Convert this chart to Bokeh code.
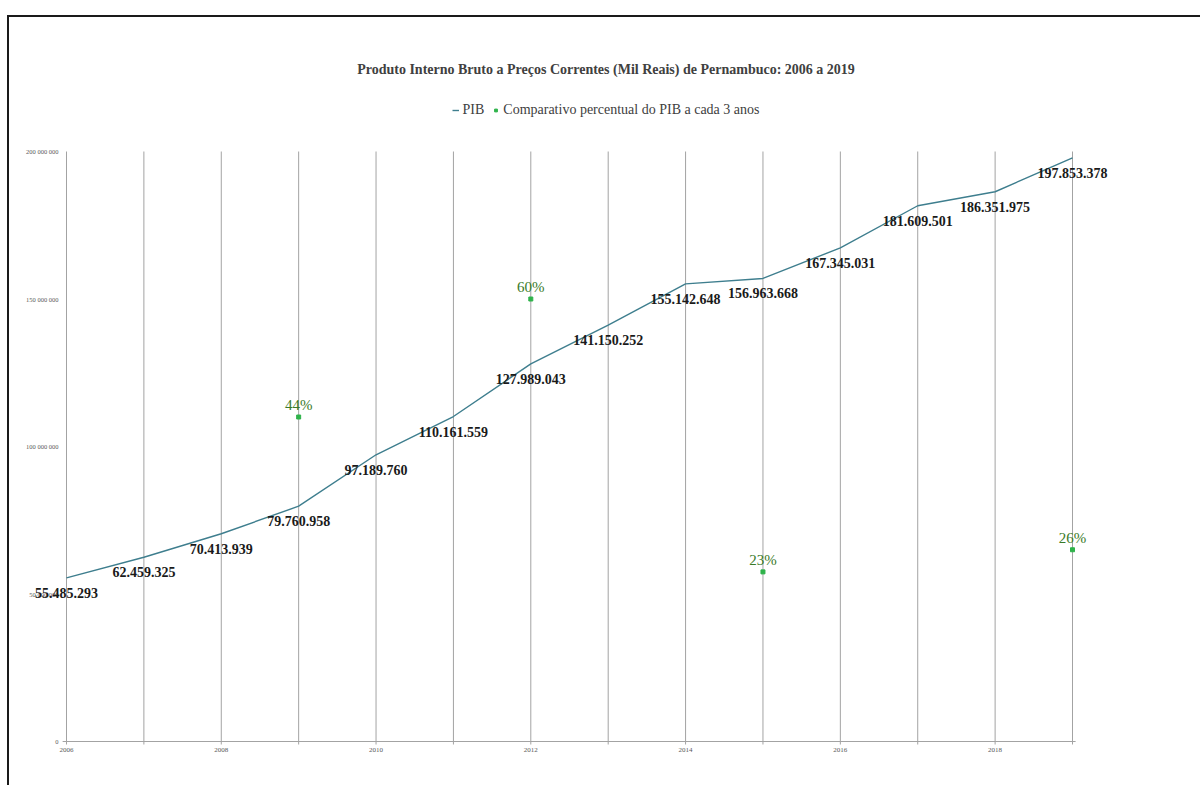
import math
from bokeh.plotting import figure
from bokeh.models import Range1d, ColumnDataSource, LabelSet, Legend, LegendItem
from bokeh.embed import file_html
from bokeh.resources import INLINE

# PIB de Pernambuco a preços correntes (mil reais)
anos = [2006, 2007, 2008, 2009, 2010, 2011, 2012, 2013, 2014, 2015, 2016, 2017, 2018, 2019]
pib = [55485293, 62459325, 70413939, 79760958, 97189760, 110161559, 127989043,
       141150252, 155142648, 156963668, 167345031, 181609501, 186351975, 197853378]

# Variação percentual do PIB a cada 3 anos
anos_comp = [2009, 2012, 2015, 2019]
comp_pct = [44, 60, 23, 26]

y_ticks = [0, 50000000, 100000000, 150000000, 200000000]
y_tick_labels = ["0", "50 000 000", "100 000 000", "150 000 000", "200 000 000"]
x_ticks = [2006, 2008, 2010, 2012, 2014, 2016, 2018]
x_tick_labels = ["2006", "2008", "2010", "2012", "2014", "2016", "2018"]
pct_axis_max = 80  # secondary scale: 0-80 % spans the same height as 0-200 000 000

SERIF = "Liberation Serif"
LINE_COLOR = "#3e7e8e"
POINT_COLOR = "#2eb34a"
PCT_TEXT = "#3a7a28"
GRID = "#a3a3a3"
TICK_TEXT = "#595959"

# canvas geometry (pixels)
W, H = 1193, 770
TOP = 70                      # title band above the plot frame
PLOT_LEFT, PLOT_RIGHT = 57, 1063
PLOT_TOP, PLOT_BOTTOM = 134, 724

# data ranges chosen so the value area lands on the pixel box above
x_scale = (PLOT_RIGHT - PLOT_LEFT) / (anos[-1] - anos[0])
x_start = anos[0] - PLOT_LEFT / x_scale
x_end = anos[-1] + (W - PLOT_RIGHT) / x_scale
y_max = y_ticks[-1]
y_scale = (PLOT_BOTTOM - PLOT_TOP) / y_max
y_start = -(H - PLOT_BOTTOM) / y_scale
y_end = y_max + (PLOT_TOP - TOP) / y_scale
pct_factor = y_max / pct_axis_max

p = figure(width=W, height=H,
           x_range=Range1d(x_start, x_end), y_range=Range1d(y_start, y_end),
           output_backend="svg", toolbar_location=None,
           title="Produto Interno Bruto a Preços Correntes (Mil Reais) de Pernambuco: 2006 a 2019",
           min_border_left=0, min_border_right=0, min_border_bottom=0, min_border_top=TOP)
p.extra_y_ranges = {"pct": Range1d(y_start / pct_factor, y_end / pct_factor)}
p.axis.visible = False
p.grid.visible = False
p.outline_line_color = None
p.background_fill_color = "white"
p.border_fill_color = "white"
p.styles = {"margin-left": "7px", "margin-top": "15px",
            "border-left": "2px solid #1a1a1a", "border-top": "2px solid #1a1a1a"}

p.title.align = "center"
p.title.text_font = SERIF
p.title.text_font_size = "14px"
p.title.text_font_style = "bold"
p.title.text_color = "#404040"
p.title.standoff = 21

# vertical grid line for every year, up to the top tick
p.segment(x0=anos, y0=[y_ticks[0]] * len(anos), x1=anos, y1=[y_max] * len(anos),
          line_color=GRID, line_width=1)
# horizontal category axis with small tick marks
p.segment(x0=[anos[0] - 0.05], y0=[0], x1=[anos[-1] + 0.04], y1=[0],
          line_color=GRID, line_width=1)
p.ray(x=anos, y=[0] * len(anos), length=3, length_units="screen",
      angle=-math.pi / 2, line_color=GRID, line_width=1)
p.text(x=x_ticks, y=[0] * len(x_ticks), text=x_tick_labels, y_offset=6,
       text_align="center", text_baseline="top", text_font={"value": SERIF},
       text_font_size="7px", text_color=TICK_TEXT)
p.text(x=[anos[0]] * len(y_ticks), y=y_ticks, text=y_tick_labels, x_offset=-8,
       text_align="right", text_baseline="middle", text_font={"value": SERIF},
       text_font_size="6.5px", text_color=TICK_TEXT)

src = ColumnDataSource(dict(ano=anos, pib=pib,
                            rotulo=[f"{v:,}".replace(",", ".") for v in pib]))
linha = p.line("ano", "pib", source=src, line_color=LINE_COLOR, line_width=1.4)

src_comp = ColumnDataSource(dict(ano=anos_comp, pct=comp_pct,
                                 rotulo=[f"{v}%" for v in comp_pct]))
pontos = p.scatter("ano", "pct", source=src_comp, y_range_name="pct", marker="square",
                   size=4, fill_color=POINT_COLOR, line_color=POINT_COLOR)

p.add_layout(LabelSet(x="ano", y="pib", text="rotulo", source=src,
                      text_align="center", text_baseline="middle", y_offset=-15,
                      text_font=SERIF, text_font_size="14px", text_font_style="bold",
                      text_color="#1a1a1a"))
p.add_layout(LabelSet(x="ano", y="pct", text="rotulo", source=src_comp, y_range_name="pct",
                      text_align="center", text_baseline="middle", y_offset=12,
                      text_font=SERIF, text_font_size="15px",
                      text_color=PCT_TEXT))

legend = Legend(items=[LegendItem(label="PIB", renderers=[linha]),
                       LegendItem(label="Comparativo percentual do PIB a cada 3 anos",
                                  renderers=[pontos])],
                orientation="horizontal", location="top_center",
                label_text_font=SERIF, label_text_font_size="14px",
                label_text_color="#404040", glyph_width=7, glyph_height=16,
                label_height=16, label_standoff=4, spacing=8,
                padding=0, margin=15, border_line_color=None,
                background_fill_alpha=0)
p.add_layout(legend)

open("out.html", "w").write(file_html(p, INLINE))
